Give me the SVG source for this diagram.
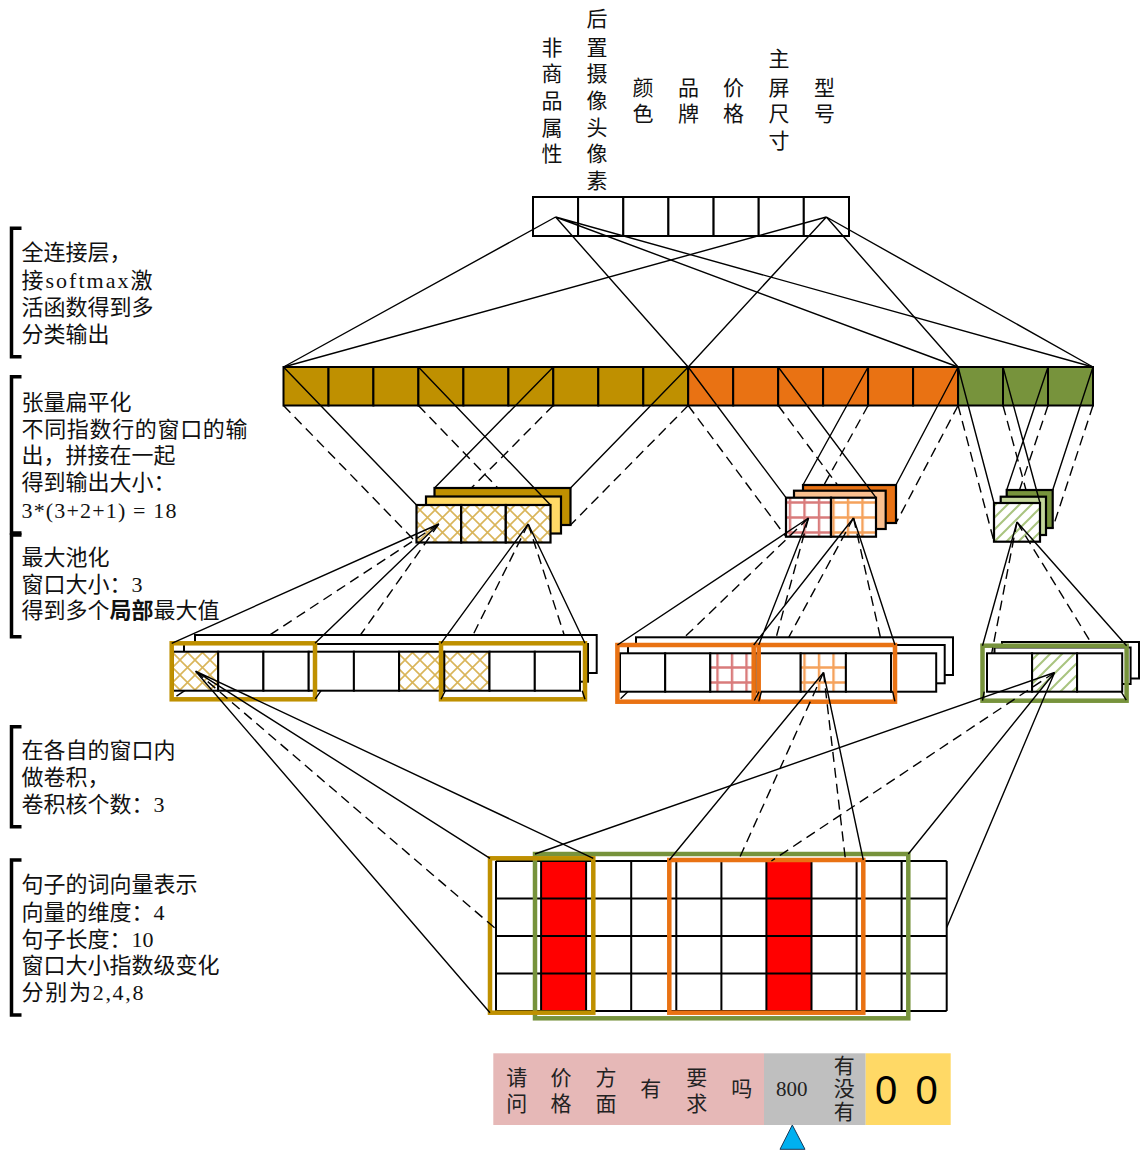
<svg xmlns="http://www.w3.org/2000/svg" width="1140" height="1151" viewBox="0 0 1140 1151">
<defs>
  <pattern id="hatchGold" width="15" height="15" patternUnits="userSpaceOnUse">
    <rect width="15" height="15" fill="#fff"/>
    <path d="M-1,-1 L16,16 M16,-1 L-1,16" stroke="#D9B55A" stroke-width="1.6"/>
  </pattern>
  <pattern id="gridRed" width="14.5" height="15" patternUnits="userSpaceOnUse">
    <rect width="14.5" height="15" fill="#fff"/>
    <path d="M7,0 V15 M0,7.5 H14.5" stroke="#D97B7B" stroke-width="2.4"/>
  </pattern>
  <pattern id="gridOrange" width="14.5" height="15" patternUnits="userSpaceOnUse">
    <rect width="14.5" height="15" fill="#fff"/>
    <path d="M7,0 V15 M0,7.5 H14.5" stroke="#F5A25C" stroke-width="2.4"/>
  </pattern>
  <pattern id="hatchGreen" width="12" height="12" patternUnits="userSpaceOnUse">
    <rect width="12" height="12" fill="#fff"/>
    <path d="M-3,15 L15,-3 M-3,3 L3,-3 M9,15 L15,9" stroke="#A9C47F" stroke-width="2"/>
  </pattern>
</defs>
<style>
  .cell { fill: #fff; stroke: #000; stroke-width: 2; }
  .box { stroke: #000; stroke-width: 2.2; }
  .hg { fill: url(#hatchGold); }
  .gr { fill: url(#gridRed); }
  .go { fill: url(#gridOrange); }
  .hn { fill: url(#hatchGreen); }
  .gold { fill: #BF9000; stroke: #000; stroke-width: 2; }
  .orange { fill: #E97213; stroke: #000; stroke-width: 2; }
  .green { fill: #77933C; stroke: #000; stroke-width: 2; }
  .frame { fill: none; stroke-width: 4.5; }
  .ln { fill: none; stroke: #000; stroke-width: 1.4; }
  .dl { fill: none; stroke: #000; stroke-width: 1.4; stroke-dasharray: 10 6; }
  .brk { fill: none; stroke: #000; stroke-width: 3.5; }
  .note { font-family: "Liberation Serif", "Noto Sans CJK SC", serif; font-size: 22px; fill: #111; }
  .lbl { font-family: "Liberation Serif", "Noto Sans CJK SC", serif; font-size: 21px; fill: #111; text-anchor: middle; }
  .tok { font-family: "Liberation Serif", "Noto Sans CJK SC", serif; font-size: 21px; fill: #222; text-anchor: middle; }
</style>
<rect width="1140" height="1151" fill="#fff"/>

<!-- side notes with brackets -->
<g id="note-fc">
  <path class="brk" d="M21.5,228.3 H11.5 V356.7 H21.5"/>
  <text class="note" x="21.5" y="260.3">全连接层，</text>
  <text class="note" x="21.5" y="287.8" textLength="131" lengthAdjust="spacing">接softmax激</text>
  <text class="note" x="21.5" y="315.3">活函数得到多</text>
  <text class="note" x="21.5" y="342.3">分类输出</text>
</g>
<g id="note-flatten">
  <path class="brk" d="M21.5,376.7 H11.5 V533 H21.5"/>
  <text class="note" x="21.5" y="410">张量扁平化</text>
  <text class="note" x="21.5" y="436.6" textLength="226" lengthAdjust="spacing">不同指数行的窗口的输</text>
  <text class="note" x="21.5" y="463.3">出，拼接在一起</text>
  <text class="note" x="21.5" y="490">得到输出大小：</text>
  <text class="note" x="21.5" y="518.3" textLength="155" lengthAdjust="spacing">3*(3+2+1) = 18</text>
</g>
<g id="note-pool">
  <path class="brk" d="M21.5,535 H11.5 V636.7 H21.5"/>
  <text class="note" x="21.5" y="565">最大池化</text>
  <text class="note" x="21.5" y="591.6">窗口大小：3</text>
  <text class="note" x="21.5" y="618.3">得到多个<tspan font-weight="bold">局部</tspan>最大值</text>
</g>
<g id="note-conv">
  <path class="brk" d="M21.5,726.7 H11.5 V826.7 H21.5"/>
  <text class="note" x="21.5" y="758.3">在各自的窗口内</text>
  <text class="note" x="21.5" y="785">做卷积，</text>
  <text class="note" x="21.5" y="811.6">卷积核个数：3</text>
</g>
<g id="note-input">
  <path class="brk" d="M21.5,860 H11.5 V1015 H21.5"/>
  <text class="note" x="21.5" y="891.6">句子的词向量表示</text>
  <text class="note" x="21.5" y="920">向量的维度：4</text>
  <text class="note" x="21.5" y="946.6">句子长度：10</text>
  <text class="note" x="21.5" y="973.3">窗口大小指数级变化</text>
  <text class="note" x="21.5" y="1000" textLength="122" lengthAdjust="spacing">分别为2,4,8</text>
</g>

<!-- output classes -->
<g id="output-labels">
  <text class="lbl"><tspan x="552" y="54.7">非</tspan><tspan x="552" y="81.3">商</tspan><tspan x="552" y="108">品</tspan><tspan x="552" y="134.7">属</tspan><tspan x="552" y="161.3">性</tspan></text>
  <text class="lbl"><tspan x="597" y="26.3">后</tspan><tspan x="597" y="54.7">置</tspan><tspan x="597" y="81.3">摄</tspan><tspan x="597" y="108">像</tspan><tspan x="597" y="134.7">头</tspan><tspan x="597" y="161.3">像</tspan><tspan x="597" y="188">素</tspan></text>
  <text class="lbl"><tspan x="643" y="94.7">颜</tspan><tspan x="643" y="121.3">色</tspan></text>
  <text class="lbl"><tspan x="688.5" y="94.7">品</tspan><tspan x="688.5" y="121.3">牌</tspan></text>
  <text class="lbl"><tspan x="733.5" y="94.7">价</tspan><tspan x="733.5" y="121.3">格</tspan></text>
  <text class="lbl"><tspan x="779" y="66.3">主</tspan><tspan x="779" y="94.7">屏</tspan><tspan x="779" y="121.3">尺</tspan><tspan x="779" y="148">寸</tspan></text>
  <text class="lbl"><tspan x="824.5" y="94.7">型</tspan><tspan x="824.5" y="121.3">号</tspan></text>
</g>
<g id="output-vector">
  <rect class="cell" x="533" y="197" width="45.1" height="39"/>
  <rect class="cell" x="578.1" y="197" width="45.2" height="39"/>
  <rect class="cell" x="623.3" y="197" width="45.1" height="39"/>
  <rect class="cell" x="668.4" y="197" width="45.2" height="39"/>
  <rect class="cell" x="713.6" y="197" width="45.1" height="39"/>
  <rect class="cell" x="758.7" y="197" width="45.1" height="39"/>
  <rect class="cell" x="803.8" y="197" width="45.2" height="39"/>
</g>

<!-- flattened feature vector: 9 + 6 + 3 values -->
<g id="flatten">
  <rect class="gold" x="283.5" y="367" width="45" height="38.5"/>
  <rect class="gold" x="328.5" y="367" width="44.9" height="38.5"/>
  <rect class="gold" x="373.4" y="367" width="45" height="38.5"/>
  <rect class="gold" x="418.4" y="367" width="45" height="38.5"/>
  <rect class="gold" x="463.4" y="367" width="45" height="38.5"/>
  <rect class="gold" x="508.4" y="367" width="44.9" height="38.5"/>
  <rect class="gold" x="553.3" y="367" width="45" height="38.5"/>
  <rect class="gold" x="598.3" y="367" width="45" height="38.5"/>
  <rect class="gold" x="643.3" y="367" width="44.9" height="38.5"/>
  <rect class="orange" x="688.2" y="367" width="45" height="38.5"/>
  <rect class="orange" x="733.2" y="367" width="45" height="38.5"/>
  <rect class="orange" x="778.2" y="367" width="44.9" height="38.5"/>
  <rect class="orange" x="823.1" y="367" width="45" height="38.5"/>
  <rect class="orange" x="868.1" y="367" width="45" height="38.5"/>
  <rect class="orange" x="913.1" y="367" width="45" height="38.5"/>
  <rect class="green" x="958.1" y="367" width="44.9" height="38.5"/>
  <rect class="green" x="1003" y="367" width="45" height="38.5"/>
  <rect class="green" x="1048" y="367" width="45" height="38.5"/>
</g>

<!-- pooled maps -->
<g id="pool-gold">
  <rect class="box" x="434.5" y="488" width="136" height="37" fill="#BF9000"/>
  <rect class="box" x="426" y="496.5" width="135" height="37" fill="#FFD966"/>
  <rect class="box hg" x="416.5" y="505" width="44.7" height="37.5"/>
  <rect class="box hg" x="461.2" y="505" width="44.6" height="37.5"/>
  <rect class="box hg" x="505.8" y="505" width="44.7" height="37.5"/>
</g>
<g id="pool-orange">
  <rect class="box" x="803" y="485" width="93" height="38" fill="#E97213"/>
  <rect class="box" x="794" y="490.7" width="91.7" height="38.3" fill="#FAC090"/>
  <rect class="box gr" x="786" y="497.7" width="45" height="39"/>
  <rect class="box go" x="831" y="497.7" width="45" height="39"/>
</g>
<g id="pool-green">
  <rect class="box" x="1006.7" y="490" width="46" height="38" fill="#77933C"/>
  <rect class="box" x="1000.7" y="496.7" width="45.3" height="38.3" fill="#C3D69B"/>
  <rect class="box hn" x="994" y="503" width="46" height="38.7"/>
</g>

<!-- convolution outputs -->
<g id="conv-gold">
  <rect class="cell" x="195" y="635" width="401.7" height="38"/>
  <rect class="cell" x="184" y="644" width="404" height="37.7"/>
  <rect class="cell hg" x="173" y="651.7" width="45.2" height="39"/>
  <rect class="cell" x="218.2" y="651.7" width="45.2" height="39"/>
  <rect class="cell" x="263.4" y="651.7" width="45.3" height="39"/>
  <rect class="cell" x="308.7" y="651.7" width="45.2" height="39"/>
  <rect class="cell" x="353.9" y="651.7" width="45.2" height="39"/>
  <rect class="cell hg" x="399.1" y="651.7" width="45.2" height="39"/>
  <rect class="cell hg" x="444.3" y="651.7" width="45.2" height="39"/>
  <rect class="cell" x="489.5" y="651.7" width="45.3" height="39"/>
  <rect class="cell" x="534.8" y="651.7" width="45.2" height="39"/>
  <rect class="frame" x="171.7" y="643.3" width="143.3" height="56" stroke="#BF9000"/>
  <rect class="frame" x="441" y="643.3" width="144" height="56" stroke="#BF9000"/>
</g>
<g id="conv-orange">
  <rect class="cell" x="636" y="637.3" width="317" height="37.7"/>
  <rect class="cell" x="628" y="645" width="316.7" height="38.3"/>
  <rect class="cell" x="620" y="653.3" width="45.2" height="38.4"/>
  <rect class="cell" x="665.2" y="653.3" width="45.1" height="38.4"/>
  <rect class="cell gr" x="710.3" y="653.3" width="45.2" height="38.4"/>
  <rect class="cell" x="755.5" y="653.3" width="45.2" height="38.4"/>
  <rect class="cell go" x="800.7" y="653.3" width="45.2" height="38.4"/>
  <rect class="cell" x="845.9" y="653.3" width="45.1" height="38.4"/>
  <rect class="cell" x="891" y="653.3" width="45.2" height="38.4"/>
  <rect class="frame" x="617.4" y="645" width="141.3" height="56.7" stroke="#E97213"/>
  <rect class="frame" x="753.7" y="645" width="141.3" height="56.7" stroke="#E97213"/>
</g>
<g id="conv-green">
  <rect class="cell" x="1002" y="642" width="137" height="36.5"/>
  <rect class="cell" x="994.5" y="647.5" width="136.1" height="36.5"/>
  <rect class="cell" x="987" y="653.3" width="45.1" height="38.4"/>
  <rect class="cell hn" x="1032.1" y="653.3" width="45" height="38.4"/>
  <rect class="cell" x="1077.1" y="653.3" width="45.1" height="38.4"/>
  <rect class="frame" x="982.5" y="645.7" width="144.1" height="55" stroke="#77933C"/>
</g>

<!-- sentence matrix: 10 words x 4 dims -->
<g id="input-matrix">
  <rect x="496" y="861" width="450.7" height="150" fill="#fff"/>
  <rect x="541.1" y="861" width="45" height="150" fill="#FF0000"/>
  <rect x="766.4" y="861" width="45.1" height="150" fill="#FF0000"/>
  <path fill="none" stroke="#000" stroke-width="2" d="M496,861 H946.7 M496,898.5 H946.7 M496,936 H946.7 M496,973.5 H946.7 M496,1011 H946.7 M496,861 V1011 M541.1,861 V1011 M586.1,861 V1011 M631.2,861 V1011 M676.3,861 V1011 M721.4,861 V1011 M766.4,861 V1011 M811.5,861 V1011 M856.6,861 V1011 M901.6,861 V1011 M946.7,861 V1011"/>
  <rect class="frame" x="535" y="854" width="373.3" height="164.3" stroke="#77933C"/>
  <rect class="frame" x="490" y="858.3" width="103.3" height="154.4" stroke="#BF9000"/>
  <rect class="frame" x="669.3" y="860" width="194" height="152.7" stroke="#E97213"/>
</g>

<!-- example sentence tokens -->
<g id="tokens">
  <rect x="493.3" y="1053.3" width="270.7" height="71.7" fill="#E6B8B7"/>
  <rect x="764" y="1053.3" width="101.7" height="71.7" fill="#BFBFBF"/>
  <rect x="865.7" y="1053.3" width="85" height="71.7" fill="#FFD966"/>
  <text class="tok"><tspan x="516.7" y="1084.5">请</tspan><tspan x="516.7" y="1111">问</tspan></text>
  <text class="tok"><tspan x="561" y="1084.5">价</tspan><tspan x="561" y="1111">格</tspan></text>
  <text class="tok"><tspan x="606" y="1084.5">方</tspan><tspan x="606" y="1111">面</tspan></text>
  <text class="tok" x="650.7" y="1096">有</text>
  <text class="tok"><tspan x="696.7" y="1084.5">要</tspan><tspan x="696.7" y="1111">求</tspan></text>
  <text class="tok" x="741.7" y="1096">吗</text>
  <text class="tok" x="791.7" y="1095.5">800</text>
  <text class="tok"><tspan x="844.3" y="1073">有</tspan><tspan x="844.3" y="1096">没</tspan><tspan x="844.3" y="1119">有</tspan></text>
  <text x="886" y="1104.3" font-family="Liberation Sans, Arial, sans-serif" font-size="40" text-anchor="middle" fill="#000">0</text>
  <text x="926.7" y="1104.3" font-family="Liberation Sans, Arial, sans-serif" font-size="40" text-anchor="middle" fill="#000">0</text>
  <polygon points="792.3,1125 780,1149.3 805,1149.3" fill="#00B0F0" stroke="#1B3A57" stroke-width="1"/>
</g>

<!-- connectors -->
<g id="connectors">
  <!-- fully connected: output classes to flattened vector -->
  <path class="ln" d="M555.6,217 L283.5,367 M555.6,217 L688.2,367 M555.6,217 L958.1,367 M555.6,217 L1093,367"/>
  <path class="ln" d="M826.4,217 L283.5,367 M826.4,217 L688.2,367 M826.4,217 L958.1,367 M826.4,217 L1093,367"/>

  <!-- flattened vector to pooled maps -->
  <path class="ln" d="M283.5,367 L416.5,505 M418.4,367 L550.5,505 M553.3,367 L434.5,488 M688.2,367 L570.5,488"/>
  <path class="dl" d="M283.5,405.5 L416.5,542.5 M418.4,405.5 L497.9,488 M553.3,405.5 L471.3,488 M688.2,405.5 L570.5,525"/>
  <path class="ln" d="M688.2,367 L786,497.7 M778.2,367 L876,497.7 M868.1,367 L803,485 M958.1,367 L896,485"/>
  <path class="dl" d="M688.2,405.5 L786,536.7 M778.2,405.5 L837.5,485 M868.1,405.5 L824,485 M958.1,405.5 L896,523"/>
  <path class="ln" d="M958.1,367 L994,503 M1003,367 L1040,503 M1048,367 L1006.7,490 M1093,367 L1052.7,490"/>
  <path class="dl" d="M958.1,405.5 L994,541.7 M1003,405.5 L1026,490 M1048,405.5 L1019.5,490 M1093,405.5 L1052.7,528"/>

  <!-- pooled maps to convolution windows -->
  <path class="ln" d="M438.8,524 L171.7,643.3 M438.8,524 L315,643.3 M528.2,524 L441,643.3 M528.2,524 L585,643.3"/>
  <path class="dl" d="M438.8,524 L269.7,635 M184.8,690.7 L171.7,699.3 M438.8,524 L360.4,635 M321.1,690.7 L315,699.3 M528.2,524 L473,635 M445.3,690.7 L441,699.3 M528.2,524 L564.2,635 M582.2,690.7 L585,699.3"/>
  <path class="ln" d="M808.5,518 L617.4,645 M808.5,518 L758.7,645 M853.5,518 L753.7,645 M853.5,518 L895,645"/>
  <path class="dl" d="M808.5,518 L684.4,637.3 M627.8,691.7 L617.4,701.7 M808.5,518 L776.2,637.3 M761.4,691.7 L758.7,701.7 M853.5,518 L788.7,637.3 M759.1,691.7 L753.7,701.7 M853.5,518 L880.4,637.3 M892.7,691.7 L895,701.7"/>
  <path class="ln" d="M1017,522 L982.5,645.7 M1017,522 L1126.6,645.7"/>
  <path class="dl" d="M1017,522 L991.7,653.3 M984.2,691.7 L982.5,700.7 M1017,522 L1090.6,642 M1121.1,691.7 L1126.6,700.7"/>

  <!-- convolution outputs to sentence windows -->
  <path class="ln" d="M195.6,671.2 L490,858.3 M195.6,671.2 L593.3,858.3 M195.6,671.2 L490,1012.7"/>
  <path class="dl" d="M195.6,671.2 L496,929"/>
  <path class="ln" d="M823.5,672.5 L669.3,860 M823.5,672.5 L863.3,860"/>
  <path class="dl" d="M823.5,672.5 L738.1,861 M823.5,672.5 L845.6,861"/>
  <path class="ln" d="M1054.6,672.5 L535,854 M1054.6,672.5 L908.3,854 M1054.6,672.5 L946.7,927.5"/>
  <path class="dl" d="M1054.6,672.5 L771.4,861"/>
</g>
</svg>
